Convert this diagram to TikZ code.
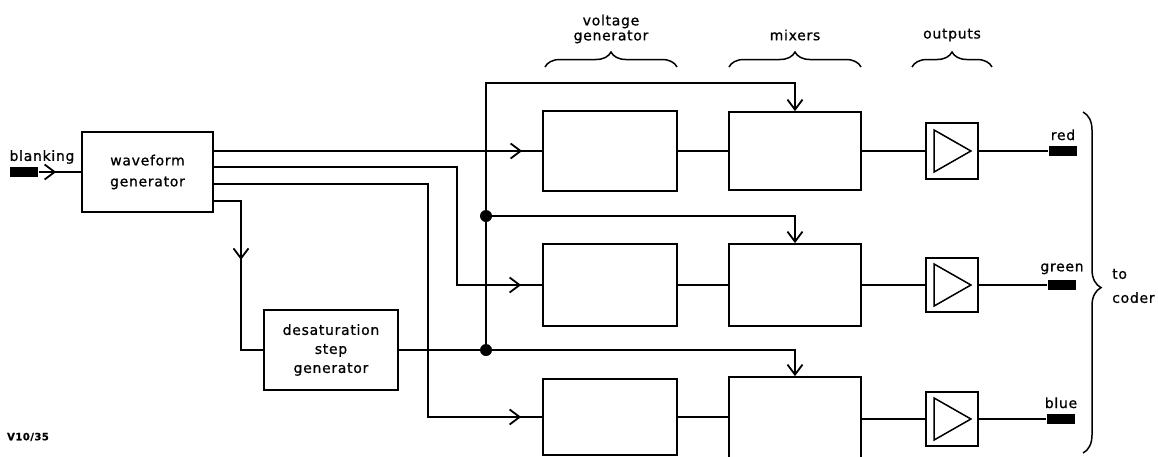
\documentclass[tikz,border=0pt]{standalone}
\usepackage{fontspec}
\setmainfont{DejaVu Sans}[LetterSpace=5, FakeBold=0.8]
\usetikzlibrary{arrows.meta,decorations.pathreplacing,decorations.markings,calc}
\tikzset{
  >={Straight Barb[length=10pt,width=15pt]},
  txt/.style={font=\fontsize{14}{#1}\selectfont, align=center},
  txt/.default=17,
  blk/.style={draw, rectangle, inner sep=0pt},
  term/.style={fill, rectangle, minimum width=28pt, minimum height=10pt, inner sep=0pt},
  dot/.style={circle, fill, minimum size=12pt, inner sep=0pt},
  marr/.style={postaction={decorate}, decoration={markings, mark=at position #1 with {\arrow{>}}}},
  brc/.style={decorate, decoration={brace, amplitude=#1}, line width=1.5pt},
  lbl/.style={label={[txt, inner sep=0pt, label distance=4pt]above:#1}}
}
\begin{document}
\begin{tikzpicture}[x=1pt,y=-1pt, line width=1.8pt]
\useasboundingbox (0,0) rectangle (1158,456);
\clip (0,0) rectangle (1158,456);

% left part
\node[term] (bl) at (24,172) {};
\node[txt, anchor=center] (blt) at (42,157) {blanking};
\node[blk, minimum width=131pt, minimum height=80pt, txt=21] (wg) at (147.5,172) {waveform\\generator};
\node[blk, minimum width=134pt, minimum height=80pt, txt=19] (ds) at (331,350) {desaturation\\step\\generator};

% voltage generators
\node[blk, minimum width=134pt, minimum height=80pt] (vg1) at (610,151) {};
\node[blk, minimum width=134pt, minimum height=82pt] (vg2) at (610,285) {};
\node[blk, minimum width=134pt, minimum height=76pt] (vg3) at (610,417) {};
% mixers
\node[blk, minimum width=132pt, minimum height=78pt] (mx1) at (795,151) {};
\node[blk, minimum width=132pt, minimum height=82pt] (mx2) at (795,285) {};
\node[blk, minimum width=132pt, minimum height=84pt] (mx3) at (795,419) {};
% output buffers
\node[blk, minimum width=52pt, minimum height=56pt] (ob1) at (952,151) {};
\node[blk, minimum width=52pt, minimum height=54pt] (ob2) at (952,285) {};
\node[blk, minimum width=52pt, minimum height=54pt] (ob3) at (952,419) {};
\foreach \o in {ob1,ob2,ob3}{
  \draw[line width=1.5pt] ($(\o.west)+(9,-21)$) -- ($(\o.east)+(-8,0)$) -- ($(\o.west)+(9,21)$) -- cycle;
}
% terminals
\node[term, lbl=red] (t1) at (1063,151) {};
\node[term, lbl=green] (t2) at (1062,285) {};
\node[term, lbl=blue] (t3) at (1061,419) {};

% dots
\node[dot] (d1) at (486,216) {};
\node[dot] (d2) at (486,0 |- ds.east) {};

% connectors
\draw[marr=-25pt] (bl.east) -- (wg.west);
\draw[marr=-20pt] (wg.east |- vg1.west) -- (vg1.west);
\draw[marr=-21pt] (wg.east |- 0,167) -| (457,0 |- vg2.west) -- (vg2.west);
\draw[marr=-21pt] (wg.east |- 0,184) -| (428,0 |- vg3.west) -- (vg3.west);
\draw[marr=86pt] (wg.east |- 0,201) -| (241,0 |- ds.west) -- (ds.west);

\draw[->] (ds.east) -| (mx3.north);
\draw[->] (d2.center) -- (d2.center |- 0,83) -| (mx1.north);
\draw[->] (d1.center) -| (mx2.north);

\draw (vg1.east) -- (mx1.west);
\draw (vg2.east) -- (mx2.west);
\draw (vg3.east) -- (vg3.east -| mx3.west);
\draw (mx1.east) -- (ob1.west);
\draw (mx2.east) -- (ob2.west);
\draw (mx3.east) -- (ob3.west);
\draw (ob1.east) -- (t1.west);
\draw (ob2.east) -- (t2.west);
\draw (ob3.east) -- (t3.west);

% braces and headings
\draw[brc=15pt] (545,67) -- (677,67);
\draw[brc=15pt] (729,67) -- (861,67);
\draw[brc=15pt] (912,67) -- (992,67);
\node[txt=15] (hvg) at (611,29) {voltage\\generator};
\node[txt] (hmx) at (795,35) {mixers};
\node[txt] (hout) at (952,35) {outputs};

\draw[decorate, decoration={brace, amplitude=18pt, aspect=0.515}, line width=1.5pt] (1083,112) -- (1083,453);
\node[txt=24, align=left, anchor=west] (tc) at (1108,286) {to\\coder};

\node[font=\fontsize{10}{11}\selectfont\bfseries] (ref) at (28,437) {V10/35};
\end{tikzpicture}
\end{document}
